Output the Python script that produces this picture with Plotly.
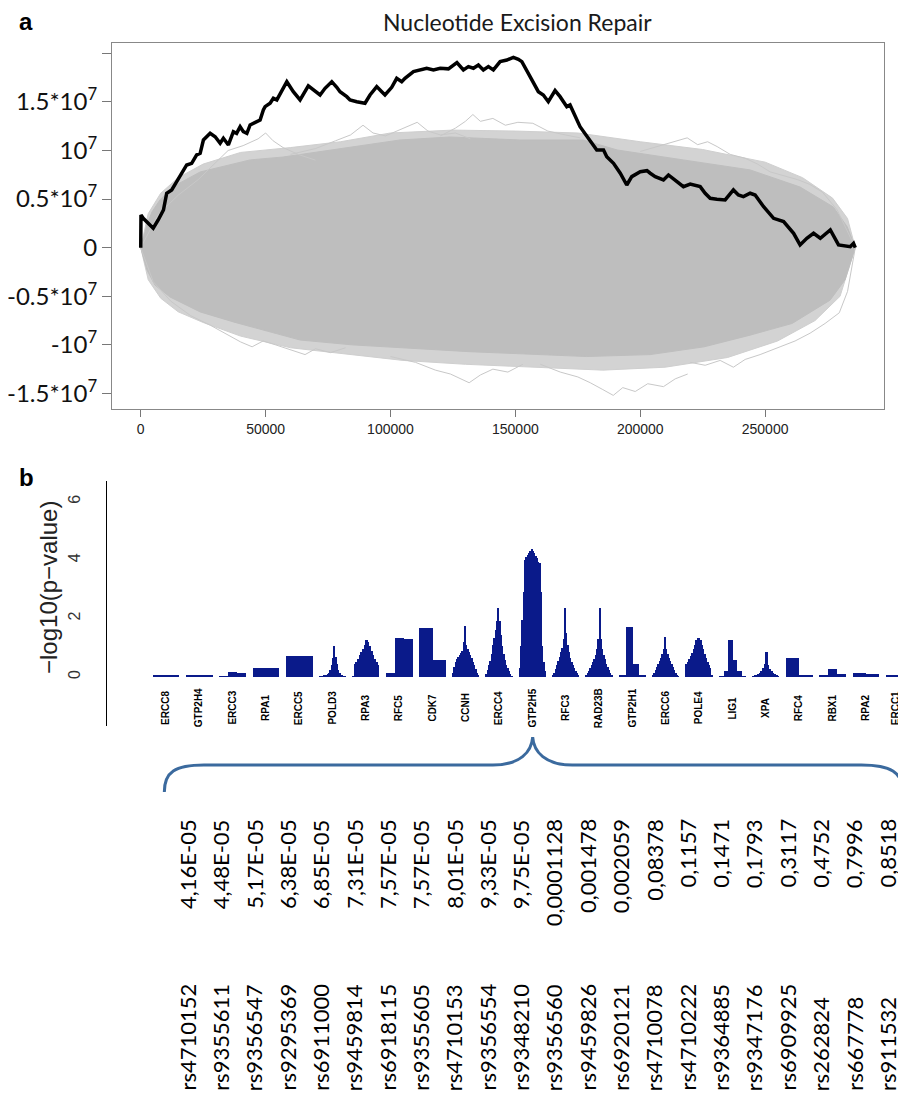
import plotly.graph_objects as go

# page body has an 8px margin; the figure fills the rest of the 906x1096 window
OX, OY = 8, 8
FW, FH = 898, 1088


def px(xp):
    return (xp - OX) / FW


def py(yp):
    return 1 - (yp - OY) / FH


# ---------------- Panel a data ----------------
obs_x = [0, 100, 1000, 3000, 5000, 7000, 9100, 10400, 12400, 14400, 16400, 18400, 20400, 22400,
         23800, 25100, 27800, 29800, 31800, 33100, 35100, 37100, 38400, 39800, 41100, 42500, 43800,
         45100, 47800, 49100, 49800, 51800, 53100, 54500, 56500, 58500, 61100, 63800, 67100, 69800,
         71800, 73800, 76500, 78500, 79800, 82500, 83800, 86500, 89800, 91800, 94500, 96500, 97800,
         100500, 102500, 104500, 105800, 109200, 111900, 114500, 117200, 119900, 123200, 126600,
         129200, 131200, 133200, 135200, 137200, 139200, 141200, 143900, 146600, 149200, 151200,
         152600, 155900, 159200, 161200, 163200, 165900, 167900, 170600, 171900, 175900, 179900,
         182600, 185300, 186600, 189300, 192000, 194600, 196600, 200000, 202700, 204000, 206000,
         209300, 211300, 214700, 217300, 220000, 224000, 226000, 228000, 230700, 234000, 237300,
         239300, 241300, 244000, 246000, 249400, 253400, 257400, 261400, 264000, 266700, 269400,
         272100, 276100, 279400, 284100, 285400, 286100]
obs_y = [0, 3.36, 3.02, 2.51, 2.00, 2.85, 3.88, 5.60, 5.94, 6.79, 7.66, 8.51, 8.68, 9.54,
         9.71, 11.08, 11.77, 11.42, 10.74, 11.26, 10.57, 11.94, 11.77, 12.45, 11.94, 11.77, 12.63,
         12.80, 13.14, 14.17, 14.51, 14.86, 15.37, 15.20, 16.23, 17.08, 16.05, 15.20, 16.64, 16.05,
         15.71, 16.40, 17.08, 16.50, 16.05, 15.54, 15.20, 15.02, 14.86, 15.71, 16.57, 16.05, 15.71,
         16.50, 17.43, 17.08, 17.43, 18.11, 18.29, 18.46, 18.29, 18.46, 18.40, 19.05,
         18.29, 18.63, 18.46, 18.80, 18.29, 18.63, 18.29, 19.14, 19.31, 19.59, 19.38,
         19.14, 17.60, 16.05, 15.71, 15.02, 16.16, 15.54, 14.51, 14.68, 12.45, 11.08,
         10.05, 10.05, 9.36, 8.68, 7.66, 6.45, 7.31, 7.82, 7.92, 7.66, 7.31,
         6.97, 7.48, 6.79, 6.28, 6.55, 6.28, 5.60, 5.08, 4.98, 4.91, 5.94,
         5.42, 5.25, 5.60, 5.42, 4.22, 3.02, 2.68, 1.48, 0.28, 0.97, 1.48,
         0.97, 1.82, 0.28, 0.10, 0.45, 0.0]  # x 1e6

# dense core of the permutation walks
perm_upper_x = [0, 2500, 4500, 7700, 11700, 15700, 23800, 43800, 57000, 77000, 103800, 123900,
                151900, 177100, 190800, 217200, 244000, 264000, 277300, 282900, 286100]
perm_upper_y = [0, 2.34, 3.68, 4.91, 5.94, 6.66, 7.79, 9.03, 9.33, 10.05, 11.08, 11.39,
                11.08, 11.08, 10.05, 9.03, 8.00, 6.24, 4.19, 2.13, 0]
perm_lower_x = [0, 2500, 5700, 11700, 23800, 37800, 63800, 84700, 131500, 178400, 204000, 225600,
                244000, 260800, 276000, 282000, 286100]
perm_lower_y = [0, -2.3, -3.84, -5.07, -6.61, -7.69, -9.5, -10.0, -10.7, -11.2, -11.0, -10.2,
                -9.0, -7.8, -5.4, -3.3, 0]
# sparser outer fringe of the permutation walks
fringe_upper_x = [0, 3000, 8000, 15000, 25000, 40000, 60000, 80000, 100000, 125000, 150000,
                  175000, 200000, 225000, 250000, 265000, 277000, 283000, 286100]
fringe_upper_y = [0, 3.5, 5.6, 7.2, 8.6, 9.8, 10.3, 10.9, 11.8, 12.1, 12.0, 11.8, 10.9, 10.1,
                  8.8, 7.2, 5.1, 3.0, 0]
fringe_lower_x = [0, 3000, 8000, 15000, 25000, 40000, 60000, 80000, 105000, 130000, 160000,
                  185000, 210000, 235000, 255000, 270000, 280000, 286100]
fringe_lower_y = [0, -3.3, -5.2, -6.6, -7.7, -9.1, -10.3, -10.9, -11.6, -12.0, -12.3, -12.6,
                  -12.3, -11.3, -9.6, -7.5, -5.0, 0]

outlier_walks = [
    ([0, 7000, 15000, 23000, 29000, 35000, 41000, 47000, 50000, 53000, 57000, 63000, 70000],
     [0, 3.4, 5.4, 7.0, 8.5, 10.0, 10.5, 11.2, 11.8, 11.0, 10.3, 9.6, 9.0]),
    ([60000, 70000, 78000, 84000, 89000, 93000, 98000, 104000, 110700, 115000, 120000, 126000, 132000],
     [9.6, 10.2, 11.0, 11.6, 12.6, 11.8, 11.5, 12.2, 12.9, 12.0, 11.6, 11.8, 11.2]),
    ([120000, 126000, 130000, 133000, 136000, 141000, 146000, 151000, 157000, 163000, 170000, 176000],
     [11.5, 12.3, 13.0, 13.7, 13.0, 13.3, 12.6, 12.9, 12.8, 12.0, 11.6, 11.3]),
    ([200000, 207000, 213000, 218800, 223000, 227000, 230800, 236000, 242000, 247000, 252000, 258000,
      263000, 268000, 273000, 278800, 283000, 286100],
     [9.9, 10.4, 10.9, 11.3, 10.6, 10.9, 10.4, 9.6, 9.2, 8.6, 7.8, 7.4, 7.0, 6.5, 5.7, 3.9, 1.6, 0]),
    ([0, 5000, 12000, 20000, 28000, 35000, 40000, 44600, 49000, 54000, 60000, 65800, 70000, 76000, 82000],
     [0, -3.5, -5.5, -7.0, -8.0, -9.0, -9.7, -10.2, -9.6, -10.0, -10.5, -11.0, -10.4, -10.8, -10.3]),
    ([100000, 110000, 118000, 124000, 131500, 136000, 141000, 147000, 153000],
     [-11.2, -11.8, -12.6, -13.0, -13.9, -13.1, -12.5, -12.8, -12.0]),
    ([160000, 168000, 175000, 180000, 185000, 189200, 193000, 198000, 203000, 209300, 214000, 219000],
     [-12.0, -12.8, -13.3, -13.9, -14.6, -15.2, -14.4, -14.8, -14.0, -14.3, -13.5, -13.0]),
    ([220000, 226000, 232000, 237300, 242000, 248000, 256000, 262000, 268000, 274000, 279700, 283000, 286100],
     [-11.8, -12.1, -11.6, -12.3, -11.5, -11.0, -10.2, -9.6, -8.8, -7.8, -6.7, -4.5, 0]),
]

a_xticks = [0, 50000, 100000, 150000, 200000, 250000]
a_yticks = [-1.5e7, -1e7, -0.5e7, 0, 0.5e7, 1e7, 1.5e7, 2e7]
a_yticktext = ["-1.5*10<sup>7</sup>", "-10<sup>7</sup>", "-0.5*10<sup>7</sup>", "0",
               "0.5*10<sup>7</sup>", "10<sup>7</sup>", "1.5*10<sup>7</sup>", ""]

# ---------------- Panel b data ----------------
genes = ["ERCC8", "GTP2H4", "ERCC3", "RPA1", "ERCC5", "POLD3", "RPA3", "RFC5", "CDK7", "CCNH",
         "ERCC4", "GTP2H5", "RFC3", "RAD23B", "GTP2H1", "ERCC6", "POLE4", "LIG1", "XPA", "RFC4",
         "RBX1", "RPA2", "ERCC1"]
snp_logp = [
    [0.04, 0.04, 0.04, 0.04],
    [0.07, 0.07, 0.07, 0.07],
    [0.01, 0.18, 0.12],
    [0.29, 0.29],
    [0.72, 0.72],
    [0.02, 0.02, 0.03, 0.04, 0.05, 0.07, 0.1, 0.15, 0.25, 0.4, 0.65, 1.07, 0.7, 0.45, 0.25, 0.12, 0.07, 0.04, 0.03, 0.02],
    [0.02, 0.45, 0.5, 0.62, 0.75, 0.85, 0.95, 1.1, 1.28, 1.2, 1.05, 0.9, 0.75, 0.62, 0.5, 0.42],
    [0.13, 1.33, 1.29],
    [1.68, 1.68, 0.57, 0.57],
    [0.15, 0.35, 0.5, 0.6, 0.68, 0.75, 0.82, 0.9, 1.2, 1.75, 1.1, 0.95, 0.85, 0.75, 0.65, 0.52, 0.4, 0.28, 0.15, 0.05],
    [0.1, 0.25, 0.4, 0.55, 0.8, 1.1, 1.35, 1.6, 1.9, 2.36, 1.9, 1.45, 1.05, 0.78, 0.58, 0.42, 0.3, 0.2, 0.1, 0.03],
    [0.3, 1.05, 1.95, 2.9, 4.0, 4.1, 4.18, 4.25, 4.3, 4.38, 4.33, 4.25, 4.15, 4.08, 3.95, 3.9, 2.9, 1.05, 0.5, 0.2],
    [0.05, 0.15, 0.28, 0.4, 0.55, 0.7, 0.85, 1.0, 1.3, 2.36, 1.5, 1.1, 0.85, 0.65, 0.5, 0.4, 0.3, 0.2, 0.12, 0.05],
    [0.05, 0.12, 0.22, 0.32, 0.42, 0.52, 0.62, 0.75, 0.95, 1.3, 2.35, 1.3, 0.95, 0.75, 0.6, 0.45, 0.35, 0.25, 0.15, 0.05],
    [0.05, 1.72, 0.45, 0.05],
    [0.05, 0.15, 0.25, 0.35, 0.45, 0.55, 0.65, 0.78, 0.95, 1.38, 0.95, 0.78, 0.65, 0.55, 0.45, 0.35, 0.25, 0.15, 0.08, 0.03],
    [0.45, 0.5, 0.6, 0.72, 0.82, 0.95, 1.1, 1.25, 1.33, 1.33, 1.25, 1.1, 0.95, 0.8, 0.65, 0.52, 0.42, 0.3, 0.05],
    [0.03, 0.22, 1.27, 0.59, 0.2, 0.03],
    [0.02, 0.04, 0.06, 0.1, 0.14, 0.2, 0.3, 0.45, 0.87, 0.4, 0.28, 0.2, 0.14, 0.1, 0.06, 0.03],
    [0.65, 0.65, 0.05, 0.05],
    [0.05, 0.26, 0.1],
    [0.12, 0.09],
    [0.05, 0.05],
]
b_yticks = [0, 2, 4, 6]

pvalues = ["4,16E-05", "4,48E-05", "5,17E-05", "6,38E-05", "6,85E-05", "7,31E-05", "7,57E-05",
           "7,57E-05", "8,01E-05", "9,33E-05", "9,75E-05", "0,0001128", "0,001478", "0,002059",
           "0,08378", "0,1157", "0,1471", "0,1793", "0,3117", "0,4752", "0,7996", "0,8518"]
rsids = ["rs4710152", "rs9355611", "rs9356547", "rs9295369", "rs6911000", "rs9459814", "rs6918115",
         "rs9355605", "rs4710153", "rs9356554", "rs9348210", "rs9356560", "rs9459826", "rs6920121",
         "rs4710078", "rs4710222", "rs9364885", "rs9347176", "rs6909925", "rs262824", "rs667778",
         "rs911532"]

GRAY = "#BEBEBE"
NAVY = "#0a1a8a"

fig = go.Figure()

# permutation walks: outer fringe, dense core, single outlier walks
fr_x = fringe_upper_x + fringe_lower_x[::-1]
fr_y = [v * 1e6 for v in fringe_upper_y + fringe_lower_y[::-1]]
fig.add_trace(go.Scatter(x=fr_x, y=fr_y, fill="toself", fillcolor="#D3D3D3", mode="lines",
                         line=dict(color="#CFCFCF", width=1), xaxis="x", yaxis="y",
                         hoverinfo="skip"))
env_x = perm_upper_x + perm_lower_x[::-1]
env_y = [v * 1e6 for v in perm_upper_y + perm_lower_y[::-1]]
fig.add_trace(go.Scatter(x=env_x, y=env_y, fill="toself", fillcolor=GRAY, mode="lines",
                         line=dict(color=GRAY, width=1), xaxis="x", yaxis="y", hoverinfo="skip"))
for fx, fy in outlier_walks:
    fig.add_trace(go.Scatter(x=fx, y=[v * 1e6 for v in fy], mode="lines",
                             line=dict(color="#C8C8C8", width=1), xaxis="x", yaxis="y",
                             hoverinfo="skip"))
fig.add_trace(go.Scatter(x=obs_x, y=[v * 1e6 for v in obs_y], mode="lines",
                         line=dict(color="black", width=3.5), xaxis="x", yaxis="y"))

# panel b bars: each gene's SNPs side by side inside its slot
GENE_W = 0.8
bx, by, bw = [], [], []
for gi, hs in enumerate(snp_logp):
    n = len(hs)
    w = GENE_W / n
    for j, h in enumerate(hs):
        bx.append(gi - GENE_W / 2 + (j + 0.5) * w)
        by.append(h)
        bw.append(w * 1.02)
fig.add_trace(go.Bar(x=bx, y=by, width=bw, marker=dict(color=NAVY, line=dict(width=0)),
                     xaxis="x2", yaxis="y2"))

annotations = []
annotations.append(dict(text="<b>a</b>", x=px(26), y=py(22), xref="paper", yref="paper",
                        xanchor="center", yanchor="middle", showarrow=False,
                        font=dict(family="Liberation Sans", size=24, color="black")))
annotations.append(dict(text="<b>b</b>", x=px(26), y=py(477), xref="paper", yref="paper",
                        xanchor="center", yanchor="middle", showarrow=False,
                        font=dict(family="Liberation Sans", size=24, color="black")))
annotations.append(dict(text="Nucleotide Excision Repair", x=px(517), y=py(22), xref="paper",
                        yref="paper", xanchor="center", yanchor="middle", showarrow=False,
                        font=dict(family="Lato", size=23, color="#1a1a1a")))
annotations.append(dict(text="\u2212log10(p\u2212value)", x=px(48), y=py(588), xref="paper",
                        yref="paper", xanchor="center", yanchor="middle", showarrow=False,
                        textangle=-90,
                        font=dict(family="Liberation Sans", size=24, color="#222")))
for gi, g in enumerate(genes):
    annotations.append(dict(text="<b>%s</b>" % g, x=gi, y=-1.06, xref="x2", yref="y2",
                            xanchor="center", yanchor="middle", showarrow=False, textangle=-90,
                            xshift=-3 if gi == len(genes) - 1 else 0,
                            font=dict(family="Liberation Sans", size=10, color="black")))
for i, (p, r) in enumerate(zip(pvalues, rsids)):
    annotations.append(dict(text=p, x=i + 0.63, y=py(817), xref="x2", yref="paper",
                            xanchor="center", yanchor="top", showarrow=False, textangle=-90,
                            font=dict(family="Lato", size=22, color="black")))
    annotations.append(dict(text=r, x=i + 0.63, y=py(1093), xref="x2", yref="paper",
                            xanchor="center", yanchor="bottom", showarrow=False, textangle=-90,
                            font=dict(family="Lato", size=22, color="black")))

# brace spanning the gene list, tip at GTP2H5
L, T, R = 0, genes.index("GTP2H5"), len(genes) - 1
brace = (f"M {L-0.05},{py(792)} C {L-0.05},{py(772)} {L+0.27},{py(765)} {L+1.14},{py(765)} "
         f"L {T-1.19},{py(765)} C {T-0.38},{py(765)} {T-0.03},{py(752)} {T},{py(737)} "
         f"C {T+0.03},{py(752)} {T+0.38},{py(765)} {T+1.19},{py(765)} "
         f"L {R-1.14},{py(765)} C {R-0.27},{py(765)} {R+0.1},{py(772)} {R+0.1},{py(792)}")
shapes = [dict(type="path", path=brace, xref="x2", yref="paper",
               line=dict(color="#3b6a9e", width=3))]

fig.update_layout(
    width=FW, height=FH, autosize=False, margin=dict(l=0, r=0, t=0, b=0),
    paper_bgcolor="white", plot_bgcolor="white", showlegend=False, bargap=0,
    annotations=annotations, shapes=shapes,
    xaxis=dict(domain=[px(112), px(884)], range=[-11500, 297600], tickvals=a_xticks,
               ticktext=[str(v) for v in a_xticks], ticks="outside", ticklen=7, tickcolor="#777",
               showline=True, mirror=True, linecolor="#888", linewidth=1, showgrid=False,
               zeroline=False, tickfont=dict(family="Liberation Sans", size=14, color="#222"),
               anchor="y"),
    yaxis=dict(domain=[py(409), py(43)], range=[-1.660e7, 2.106e7], tickvals=a_yticks,
               ticktext=a_yticktext, ticks="outside", ticklen=9, tickcolor="#777",
               showline=True, mirror=True, linecolor="#888", linewidth=1, showgrid=False,
               zeroline=False, tickfont=dict(family="Lato", size=24, color="#111"),
               anchor="x"),
    xaxis2=dict(domain=[px(107), 1.0], range=[-1.77, 22.2], visible=False, anchor="y2"),
    yaxis2=dict(domain=[py(726), py(481)], range=[-1.68, 6.71], tickvals=b_yticks,
                ticktext=[str(v) for v in b_yticks], tickangle=-90, ticks="",
                ticklabelstandoff=20, showline=True, linecolor="black", linewidth=1,
                showgrid=False, zeroline=False,
                tickfont=dict(family="Liberation Sans", size=16, color="#333"), anchor="x2"),
)

fig.write_html("out.html")
